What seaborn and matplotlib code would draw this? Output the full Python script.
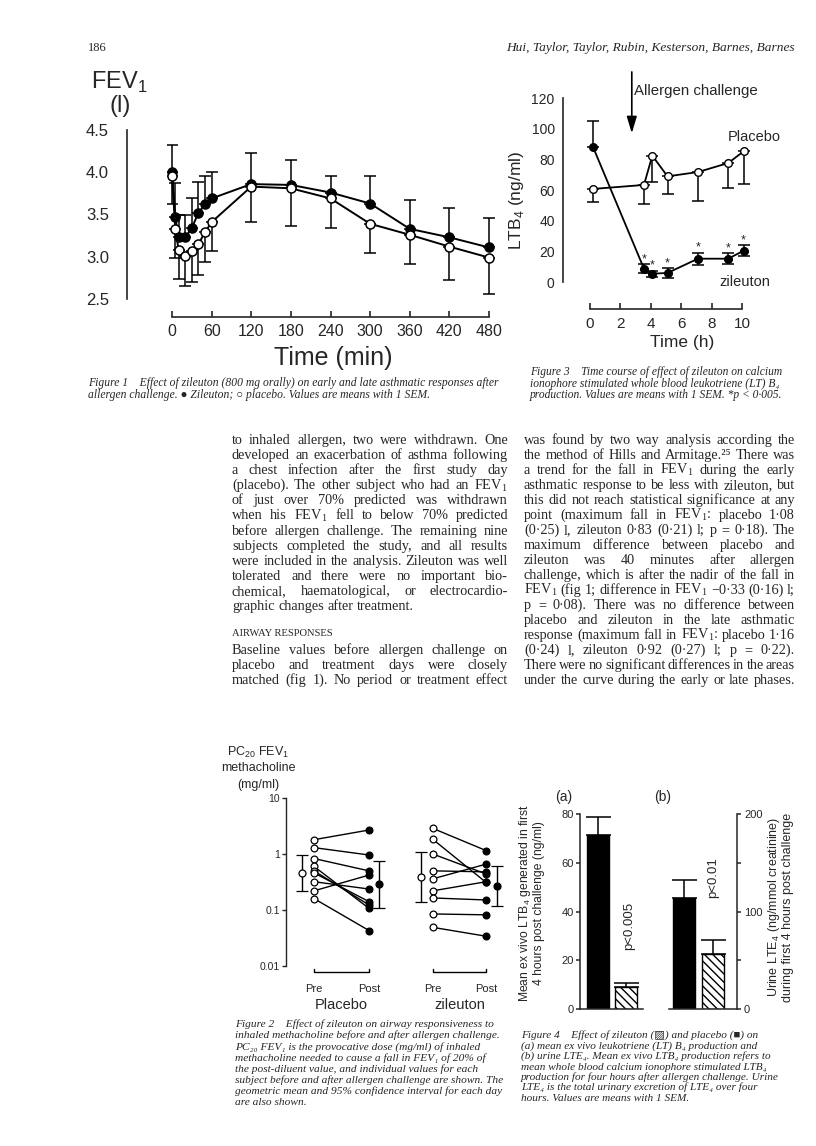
import matplotlib
matplotlib.use('Agg')
import numpy as np
import pandas as pd
import matplotlib.pyplot as plt
import matplotlib.transforms as mtrans
import seaborn as sns
from matplotlib.ticker import NullLocator

# Figure 1 - FEV1 (l) after allergen challenge, means with upward / downward SEM
fev_time = [0, 5, 10, 20, 30, 40, 50, 60, 120, 180, 240, 300, 360, 420, 480]
fev_zil = [4.00, 3.47, 3.23, 3.23, 3.34, 3.52, 3.62, 3.69, 3.86, 3.85, 3.76, 3.63, 3.33, 3.23, 3.11]
fev_zil_sem = [0.32, 0.40, 0.27, 0.26, 0.36, 0.37, 0.33, 0.31, 0.37, 0.30, 0.20, 0.32, 0.34, 0.35, 0.35]
fev_pla = [3.96, 3.33, 3.08, 3.01, 3.07, 3.15, 3.29, 3.41, 3.83, 3.81, 3.69, 3.39, 3.26, 3.12, 2.99]
fev_pla_sem = [0.33, 0.35, 0.34, 0.36, 0.37, 0.37, 0.35, 0.34, 0.42, 0.45, 0.35, 0.35, 0.34, 0.39, 0.43]
fev_xticks = [0, 60, 120, 180, 240, 300, 360, 420, 480]
fev_yticks = [2.5, 3.0, 3.5, 4.0, 4.5]

# Figure 3 - whole blood LTB4 (ng/ml) over 10 h
ltb_time = [0.2, 3.55, 4.1, 5.1, 7.1, 9.1, 10.1]
ltb_zil = [88, 8.7, 5.4, 5.9, 15.2, 15.2, 20.4]
ltb_zil_lo = [0, 3, 2, 3, 4, 3.5, 3.5]
ltb_zil_hi = [17, 3, 2, 3, 4, 3.5, 3.5]
ltb_pla = [60.7, 63.3, 82.4, 68.9, 71.7, 77.6, 85.2]
ltb_pla_sem = [8.5, 12.4, 17.2, 11.5, 19, 16.5, 21]
ltb_xticks = [0, 2, 4, 6, 8, 10]
ltb_yticks = [0, 20, 40, 60, 80, 100, 120]
challenge_time = 2.75

# Figure 2 - PC20 FEV1 methacholine (mg/ml), individual subjects pre/post
pc_pla_pre = [1.8, 1.3, 0.83, 0.6, 0.5, 0.46, 0.32, 0.22, 0.16]
pc_pla_post = [2.68, 0.96, 0.5, 0.107, 0.123, 0.141, 0.237, 0.42, 0.043]
pc_zil_pre = [2.87, 1.83, 1.0, 0.5, 0.36, 0.22, 0.164, 0.085, 0.049]
pc_zil_post = [1.15, 0.31, 0.44, 0.48, 0.66, 0.32, 0.151, 0.082, 0.034]
pc_gmean = [0.46, 0.287, 0.39, 0.268]
pc_ci_lo = [0.218, 0.107, 0.14, 0.118]
pc_ci_hi = [0.96, 0.76, 1.1, 0.61]
pc_yticks = [0.01, 0.1, 1, 10]
pc_ylabels = ['0.01', '0.1', '1', '10']

# Figure 4 - (a) ex vivo LTB4, (b) urine LTE4
f4_groups = ['placebo', 'zileuton']
ltb4_mean = [71.4, 9.0]
ltb4_sem = [7.5, 1.6]
lte4_mean = [114.3, 56.7]
lte4_sem = [18, 14.3]

sns.set_style('ticks')
plt.rcParams['font.family'] = ['Liberation Sans', 'DejaVu Sans']
plt.rcParams['hatch.linewidth'] = 1.0
SERIF = ['Liberation Serif', 'DejaVu Serif', 'DejaVu Sans']

W, H = 816, 1146
fig = plt.figure(figsize=(W / 100, H / 100), dpi=100)
renderer = fig.canvas.get_renderer()


def add_ax(l, t, r, b):
    return fig.add_axes([l / W, 1 - b / H, (r - l) / W, (b - t) / H])


def put(x, y, s, **kw):
    return fig.text(x / W, 1 - y / H, s, **kw)


def px_lim(p_lo, p_hi, p0, p1, v0, v1):
    k = (v1 - v0) / (p1 - p0)
    return v0 + (p_lo - p0) * k, v0 + (p_hi - p0) * k


def sub(s):
    return r'$_\mathregular{' + s + '}$'


def usub(s):
    # plain unicode subscript digits, keeps caption line boxes tight
    return s.translate(str.maketrans('0123456789', '\u2080\u2081\u2082\u2083\u2084\u2085\u2086\u2087\u2088\u2089'))


def usup(s):
    return s.translate(str.maketrans('0123456789', '\u2070\u00b9\u00b2\u00b3\u2074\u2075\u2076\u2077\u2078\u2079'))


# ---------------- Figure 1 ----------------
ax1 = add_ax(167, 122, 494, 305)
ax1.errorbar(fev_time, fev_zil, yerr=[np.zeros(len(fev_zil)), fev_zil_sem], fmt='none',
             ecolor='k', elinewidth=1.1, capsize=4.3, capthick=1.1, zorder=2)
ax1.errorbar(fev_time, fev_pla, yerr=[fev_pla_sem, np.zeros(len(fev_pla))], fmt='none',
             ecolor='k', elinewidth=1.1, capsize=4.3, capthick=1.1, zorder=2)
sns.lineplot(x=fev_time, y=fev_zil, ax=ax1, color='k', lw=1.4, marker='o', ms=6.5,
             mfc='k', mec='k', mew=1.1, zorder=3)
sns.lineplot(x=fev_time, y=fev_pla, ax=ax1, color='k', lw=1.4, marker='o', ms=6.5,
             mfc='w', mec='k', mew=1.1, zorder=3)
ax1.set_xlim(px_lim(167, 494, 172, 489, 0, 480))
ax1.set_ylim(px_lim(305, 122, 299, 130, 2.5, 4.5))
sns.despine(ax=ax1)
ax1.spines['left'].set_position(('outward', 28.8))
ax1.spines['left'].set_bounds(2.5, 4.5)
ax1.spines['bottom'].set_position(('outward', 8.6))
ax1.spines['bottom'].set_bounds(0, 480)
for sp in ax1.spines.values():
    sp.set_linewidth(1.2)
ax1.set_xticks(fev_xticks, [str(v) for v in fev_xticks])
ax1.tick_params(axis='x', direction='in', length=4, width=1.2, labelsize=11.5, pad=5)
ax1.set_yticks(fev_yticks, [f'{v:.1f}' for v in fev_yticks])
ax1.tick_params(axis='y', length=0, labelsize=12, pad=13)
ax1.set_yticks([fev_yticks[0], fev_yticks[-1]], minor=True)
ax1.tick_params(axis='y', which='minor', direction='in', length=5, width=1.2)
put(119, 82, 'FEV' + sub('1'), size=17, ha='center', va='center')
put(120, 106, '(l)', size=17, ha='center', va='center')
put(333, 358, 'Time (min)', size=18, ha='center', va='center')

# ---------------- Figure 3 ----------------
ax3 = add_ax(583, 90, 752, 290)
ax3.errorbar(ltb_time, ltb_zil, yerr=[ltb_zil_lo, ltb_zil_hi], fmt='none', ecolor='k',
             elinewidth=1.1, capsize=4.5, capthick=1.1, zorder=2)
ax3.errorbar(ltb_time, ltb_pla, yerr=[ltb_pla_sem, np.zeros(len(ltb_pla))], fmt='none',
             ecolor='k', elinewidth=1.1, capsize=4.5, capthick=1.1, zorder=2)
sns.lineplot(x=ltb_time, y=ltb_zil, ax=ax3, color='k', lw=1.3, marker='o', ms=5.5,
             mfc='k', mec='k', mew=1.0, zorder=3)
sns.lineplot(x=ltb_time, y=ltb_pla, ax=ax3, color='k', lw=1.3, marker='o', ms=5.5,
             mfc='w', mec='k', mew=1.0, zorder=3)
for t, v, e in list(zip(ltb_time, ltb_zil, ltb_zil_hi))[1:]:
    ax3.annotate('*', (t, v + e), xytext=(0, 3.5), textcoords='offset points',
                 ha='center', va='center', size=9)
ax3.set_xlim(px_lim(583, 752, 590, 742, 0, 10))
ax3.set_ylim(px_lim(290, 90, 282, 98, 0, 120))
sns.despine(ax=ax3)
ax3.spines['left'].set_position(('outward', 14.4))
ax3.spines['left'].set_bounds(0, 120)
ax3.spines['bottom'].set_position(('outward', 13.7))
ax3.spines['bottom'].set_bounds(0, 10)
for sp in ax3.spines.values():
    sp.set_linewidth(1.2)
ax3.set_xticks(ltb_xticks, [str(v) for v in ltb_xticks])
ax3.tick_params(axis='x', direction='in', length=4, width=1.2, labelsize=11, pad=6)
ax3.set_yticks(ltb_yticks, [str(v) for v in ltb_yticks])
ax3.tick_params(axis='y', length=0, labelsize=10, pad=6)
ax3.set_yticks([ltb_yticks[0], ltb_yticks[-1]], minor=True)
ax3.tick_params(axis='y', which='minor', direction='in', length=5, width=1.2)
ax3.annotate('', xy=(challenge_time, 97), xytext=(challenge_time, 137),
             arrowprops=dict(arrowstyle='-|>,head_length=1.0,head_width=0.3', color='k',
                             lw=1.2, shrinkA=0, shrinkB=0), annotation_clip=False)
ax3.text(challenge_time + 0.15, 124.5, 'Allergen challenge', size=10.8, ha='left', va='center')
ax3.text(10.8, 94.6, 'Placebo', size=10.5, ha='center', va='center')
ax3.text(10.2, 0, 'zileuton', size=10.5, ha='center', va='center')
put(517, 200, 'LTB' + sub('4') + ' (ng/ml)', size=12.5, rotation=90, ha='center', va='center')
put(682, 343, 'Time (h)', size=12.5, ha='center', va='center')

# ---------------- Figure 2 ----------------
ax2 = add_ax(286, 790, 505, 966)
grp_x = {'Placebo': (0, 1), 'zileuton': (2.16, 3.13)}
rows = []
for g, pre, post in [('Placebo', pc_pla_pre, pc_pla_post), ('zileuton', pc_zil_pre, pc_zil_post)]:
    for i, (a, b) in enumerate(zip(pre, post)):
        rows.append(dict(subj=f'{g}{i}', x=grp_x[g][0], v=a, phase='pre'))
        rows.append(dict(subj=f'{g}{i}', x=grp_x[g][1], v=b, phase='post'))
pc_df = pd.DataFrame(rows)
sns.lineplot(data=pc_df, x='x', y='v', units='subj', estimator=None, color='k', lw=1.0,
             ax=ax2, zorder=2)
sns.scatterplot(data=pc_df[pc_df.phase == 'pre'], x='x', y='v', color='w', edgecolor='k',
                linewidth=0.9, s=24, ax=ax2, zorder=3)
sns.scatterplot(data=pc_df[pc_df.phase == 'post'], x='x', y='v', color='k', edgecolor='k',
                linewidth=0.9, s=24, ax=ax2, zorder=3)
mean_x = [grp_x['Placebo'][0] - 0.22, grp_x['Placebo'][1] + 0.19,
          grp_x['zileuton'][0] - 0.22, grp_x['zileuton'][1] + 0.19]
for i, (mx, m, lo, hi) in enumerate(zip(mean_x, pc_gmean, pc_ci_lo, pc_ci_hi)):
    ax2.errorbar([mx], [m], yerr=[[m - lo], [hi - m]], fmt='o', ms=5, mfc='w' if i % 2 == 0 else 'k',
                 mec='k', mew=0.9, ecolor='k', elinewidth=1.0, capsize=4, capthick=1.0, zorder=3)
ax2.set_yscale('log')
ax2.set_ylim(0.01, 10 ** ((966 - 790) / 56 - 2))
ax2.set_xlim(px_lim(286, 505, 314, 369, 0, 1))
ax2.set_yticks(pc_yticks, pc_ylabels)
ax2.yaxis.set_minor_locator(NullLocator())
ax2.tick_params(axis='y', direction='out', length=3, width=1.0, labelsize=7.5, pad=1.5)
ax2.set_xticks([*grp_x['Placebo'], *grp_x['zileuton']], ['Pre', 'Post', 'Pre', 'Post'])
ax2.tick_params(axis='x', length=0, labelsize=8, pad=13)
ax2.set_xlabel('')
ax2.set_ylabel('')
for s in ['top', 'right', 'bottom']:
    ax2.spines[s].set_visible(False)
ax2.spines['left'].set_bounds(0.01, 10)
ax2.spines['left'].set_linewidth(1.0)
blend = mtrans.blended_transform_factory(ax2.transData, ax2.transAxes)
for g, (x0, x1) in grp_x.items():
    ax2.plot([x0, x0, x1, x1], [-0.017, -0.034, -0.034, -0.017], color='k', lw=1.0,
             transform=blend, clip_on=False)
    ax2.text((x0 + x1) / 2, -0.222, g, transform=blend, ha='center', va='center', size=10.5)
put(258, 752, 'PC' + sub('20') + ' FEV' + sub('1'), size=9, ha='center', va='center')
put(258, 768, 'methacholine', size=9, ha='center', va='center')
put(258, 785, '(mg/ml)', size=9, ha='center', va='center')

# ---------------- Figure 4 ----------------
axa = add_ax(580, 810, 643, 1009)
sns.barplot(x=f4_groups, y=ltb4_mean, hue=f4_groups, palette=['black', 'white'], saturation=1,
            width=0.79, edgecolor='k', linewidth=1.0, legend=False, ax=axa)
axa.errorbar([0, 1], ltb4_mean, yerr=[[0, 0], ltb4_sem], fmt='none', ecolor='k',
             elinewidth=1.1, capsize=9, capthick=1.1)
axb = add_ax(669, 810, 737, 1009)
sns.barplot(x=f4_groups, y=lte4_mean, hue=f4_groups, palette=['black', 'white'], saturation=1,
            width=0.75, edgecolor='k', linewidth=1.0, legend=False, ax=axb)
axb.errorbar([0, 1], lte4_mean, yerr=[[0, 0], lte4_sem], fmt='none', ecolor='k',
             elinewidth=1.1, capsize=9, capthick=1.1)
for ax in (axa, axb):
    ax.patches[1].set_hatch('\\\\\\\\')
    ax.set_xticks([])
    ax.set_xlabel('')
    ax.set_ylabel('')
    ax.spines['top'].set_visible(False)
    for sp in ax.spines.values():
        sp.set_linewidth(1.1)
axa.set_xlim(px_lim(580, 643, 598, 626, 0, 1))
axa.set_ylim(0, 80 * 199 / 195)
axa.spines['right'].set_visible(False)
axa.spines['left'].set_bounds(0, 80)
axa.set_yticks([0, 20, 40, 60, 80], ['0', '20', '40', '60', '80'])
axa.tick_params(axis='y', direction='out', length=3, width=1.1, labelsize=8, pad=1.5)
axb.set_xlim(px_lim(669, 737, 684, 713, 0, 1))
axb.set_ylim(0, 200 * 199 / 195)
axb.spines['left'].set_visible(False)
axb.spines['right'].set_bounds(0, 200)
axb.yaxis.tick_right()
axb.set_yticks([0, 50, 100, 150, 200], ['0', '', '100', '', '200'])
axb.tick_params(axis='y', direction='out', length=3, width=1.1, labelsize=8, pad=2)
axa.text(1.12, 24, 'p<0.005', rotation=90, ha='center', va='bottom', size=9.5)
axb.text(1.0, 114, 'p<0.01', rotation=90, ha='center', va='bottom', size=9.5)
put(564, 797, '(a)', size=10, ha='center', va='center')
put(663, 797, '(b)', size=10, ha='center', va='center')
put(531, 903, 'Mean ex vivo LTB' + sub('4') + ' generated in first\n4 hours post challenge (ng/ml)',
    rotation=90, ha='center', va='center', size=8.7, linespacing=1.1, multialignment='center')
put(780, 907, 'Urine LTE' + sub('4') + ' (ng/mmol creatinine)\nduring first 4 hours post challenge',
    rotation=90, ha='center', va='center', size=9.0, linespacing=1.1, multialignment='center')

# ---------------- page text ----------------
put(88, 51, '186', size=9, family=SERIF, va='baseline')
put(795, 51, 'Hui, Taylor, Taylor, Rubin, Kesterson, Barnes, Barnes', size=9.6, family=SERIF,
    style='italic', ha='right', va='baseline')


def caption(x, y0, dy, lines, size):
    for i, s in enumerate(lines):
        put(x, y0 + i * dy, s, size=size, family=SERIF, style='italic', va='baseline')


caption(88, 386, 12, ['Figure 1    Effect of zileuton (800 mg orally) on early and late asthmatic responses after',
                      'allergen challenge. \u25cf Zileuton; \u25cb placebo. Values are means with 1 SEM.'], 8.4)
caption(530, 375, 11.7, ['Figure 3    Time course of effect of zileuton on calcium',
                         'ionophore stimulated whole blood leukotriene (LT) B' + usub('4'),
                         'production. Values are means with 1 SEM. *p < 0\u00b7005.'], 8.3)
caption(235, 1027, 11.2, ['Figure 2    Effect of zileuton on airway responsiveness to',
                          'inhaled methacholine before and after allergen challenge.',
                          'PC' + usub('20') + ' FEV' + usub('1') + ' is the provocative dose (mg/ml) of inhaled',
                          'methacholine needed to cause a fall in FEV' + usub('1') + ' of 20% of',
                          'the post-diluent value, and individual values for each',
                          'subject before and after allergen challenge are shown. The',
                          'geometric mean and 95% confidence interval for each day',
                          'are also shown.'], 8.2)
caption(521, 1038, 10.5, ['Figure 4    Effect of zileuton (\u25a8) and placebo (\u25a0) on',
                          '(a) mean ex vivo leukotriene (LT) B' + usub('4') + ' production and',
                          '(b) urine LTE' + usub('4') + '. Mean ex vivo LTB' + usub('4') + ' production refers to',
                          'mean whole blood calcium ionophore stimulated LTB' + usub('4'),
                          'production for four hours after allergen challenge. Urine',
                          'LTE' + usub('4') + ' is the total urinary excretion of LTE' + usub('4') + ' over four',
                          'hours. Values are means with 1 SEM.'], 8.1)

F1 = 'FEV' + sub('1')
left_col = [
    'to inhaled allergen, two were withdrawn. One',
    'developed an exacerbation of asthma following',
    'a chest infection after the first study day',
    f'(placebo). The other subject who had an {F1}',
    'of just over 70% predicted was withdrawn',
    f'when his {F1} fell to below 70% predicted',
    'before allergen challenge. The remaining nine',
    'subjects completed the study, and all results',
    'were included in the analysis. Zileuton was well',
    'tolerated and there were no important bio-',
    'chemical, haematological, or electrocardio-',
    'graphic changes after treatment.',
]
left_col2 = [
    'Baseline values before allergen challenge on',
    'placebo and treatment days were closely',
    'matched (fig 1). No period or treatment effect',
]
right_col = [
    'was found by two way analysis according the',
    'the method of Hills and Armitage.' + usup('25') + ' There was',
    f'a trend for the fall in {F1} during the early',
    'asthmatic response to be less with zileuton, but',
    'this did not reach statistical significance at any',
    f'point (maximum fall in {F1}: placebo 1\u00b708',
    '(0\u00b725) l, zileuton 0\u00b783 (0\u00b721) l; p = 0\u00b718). The',
    'maximum difference between placebo and',
    'zileuton was 40 minutes after allergen',
    'challenge, which is after the nadir of the fall in',
    f'{F1} (fig 1; difference in {F1} \u22120\u00b733 (0\u00b716) l;',
    'p = 0\u00b708). There was no difference between',
    'placebo and zileuton in the late asthmatic',
    f'response (maximum fall in {F1}: placebo 1\u00b716',
    '(0\u00b724) l, zileuton 0\u00b792 (0\u00b727) l; p = 0\u00b722).',
    'There were no significant differences in the areas',
    'under the curve during the early or late phases.',
]

BODY = 10.3


def justify_line(s, x0, x1, y, full=True):
    words = s.split()
    texts = [put(0, y, w, size=BODY, family=SERIF, va='baseline') for w in words]
    widths = [t.get_window_extent(renderer).width for t in texts]
    if full and len(words) > 1:
        gap = max((x1 - x0 - sum(widths)) / (len(words) - 1), 1.5)
    else:
        gap = BODY * 0.25 * 100 / 72
    x = x0
    for t, w in zip(texts, widths):
        t.set_x(x / W)
        x += w + gap


for i, s in enumerate(left_col):
    justify_line(s, 232, 508, 444 + 15.1 * i, full=(i < len(left_col) - 1))
put(232, 636, 'AIRWAY RESPONSES', size=7.6, family=SERIF, va='baseline')
for i, s in enumerate(left_col2):
    justify_line(s, 232, 508, 654 + 15 * i)
for i, s in enumerate(right_col):
    justify_line(s, 524, 795, 444 + 15 * i)

fig.savefig('out.png', dpi=100)
